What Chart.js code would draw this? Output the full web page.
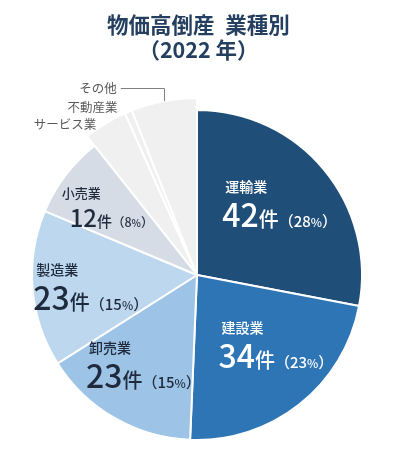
<!DOCTYPE html>
<html lang="ja">
<head>
<meta charset="utf-8">
<title>物価高倒産 業種別</title>
<script src="https://cdn.jsdelivr.net/npm/chart.js@4.4.0/dist/chart.umd.min.js"></script>
<style>
  body { margin: 0; background: #fff; }
  #wrap { position: relative; width: 397px; height: 450px; overflow: hidden; }
  #wrap canvas { position: absolute; left: 0; top: 0; }
  #title {
    position: absolute; left: 0; top: 11px; width: 397px; z-index: 3;
    text-align: center; color: #243f60;
    font: bold 21.5px/25px "Noto Sans CJK JP", sans-serif;
  }
</style>
</head>
<body>
<div id="wrap">
  <div id="title">物価高倒産&ensp;業種別<br>（2022 年）</div>
  <canvas id="backChart" width="397" height="450"></canvas>
  <canvas id="pieChart" width="397" height="450"></canvas>
</div>
<script>
// data
const categories = ['運輸業', '建設業', '卸売業', '製造業', '小売業', 'サービス業', '不動産業', 'その他'];
const counts = [42, 34, 23, 23, 12, 6, 1, 9];
const shares = [28, 23, 15, 15, 8, null, null, null]; // % shown in the labels
const sliceColors = ['#1f4e79', '#2e75b6', '#9dc3e6', '#bdd7ee', '#d6dce5', '#f0f0f0', '#f0f0f0', '#f0f0f0'];

const isMinor = i => shares[i] == null;
const mainRadius = 165;
const minorRadius = 177;
const pad = { left: 32, top: 110, right: 35, bottom: 10 };
const jp = '"Noto Sans CJK JP", sans-serif';

// small angle tweaks (deg) so the labels sit like the original
const labelTurn = [0, -9, 0, -3, 0];

const insideLabels = {
  id: 'insideLabels',
  afterDatasetsDraw(chart) {
    const ctx = chart.ctx;
    const arcs = chart.getDatasetMeta(0).data;
    ctx.save();
    arcs.forEach((arc, i) => {
      const p = arc.getProps(['x', 'y', 'startAngle', 'endAngle'], true);
      const a = (p.startAngle + p.endAngle) / 2;
      if (isMinor(i)) {
        drawOutside(ctx, p, a, i);
        return;
      }
      const t = a + (labelTurn[i] || 0) * Math.PI / 180;
      const cx = p.x + Math.cos(t) * mainRadius * 0.65;
      const cy = p.y + Math.sin(t) * mainRadius * 0.65;
      const small = counts[i] < 15;
      const color = i < 2 ? '#ffffff' : '#1f2b3d';
      const runs = [
        [String(counts[i]), `500 ${small ? 24 : 32}px ${jp}`],
        ['件', `500 ${small ? 15 : 20}px ${jp}`],
        ['（' + shares[i], `500 ${small ? 12.5 : 15}px ${jp}`],
        ['%', `500 ${small ? 10 : 12}px ${jp}`],
        ['）', `500 ${small ? 12.5 : 15}px ${jp}`]
      ];
      let w = 0;
      runs.forEach(r => { ctx.font = r[1]; r.push(ctx.measureText(r[0]).width); w += r[2]; });
      let x = cx - w / 2;
      const base = cy + (small ? 17 : 20);
      ctx.fillStyle = color;
      ctx.textBaseline = 'alphabetic';
      ctx.textAlign = 'left';
      runs.forEach(r => { ctx.font = r[1]; ctx.fillText(r[0], x, base); x += r[2]; });
      ctx.font = `500 ${small ? 13 : 14}px ${jp}`;
      ctx.textBaseline = 'middle';
      ctx.fillText(categories[i], cx - w / 2 + (small ? -8 : 3), cy - (small ? 17 : 20));
    });
    ctx.restore();
  }
};

// labels for the thin grey slices, outside the pie
const outsideShift = { 5: [-9, 1], 6: [-11, -5] };
function drawOutside(ctx, p, a, i) {
  const ex = p.x + Math.cos(a) * minorRadius;
  const ey = p.y + Math.sin(a) * minorRadius;
  ctx.font = `12.5px ${jp}`;
  ctx.fillStyle = '#595959';
  ctx.textAlign = 'right';
  ctx.textBaseline = 'middle';
  if (outsideShift[i]) {
    ctx.fillText(categories[i], ex + outsideShift[i][0], ey + outsideShift[i][1]);
    return;
  }
  const ly = ey - 13;
  ctx.strokeStyle = '#808080';
  ctx.lineWidth = 1;
  ctx.beginPath();
  ctx.moveTo(Math.round(ex) + 0.5, ey);
  ctx.lineTo(Math.round(ex) + 0.5, Math.round(ly) + 0.5);
  ctx.lineTo(ex - 43, Math.round(ly) + 0.5);
  ctx.stroke();
  ctx.fillText(categories[i], ex - 47, ly);
}

const common = {
  responsive: false,
  animation: false,
  events: [],
  layout: { padding: pad },
  plugins: { legend: { display: false }, tooltip: { enabled: false } }
};

// grey minor slices drawn a bit larger, underneath
new Chart(document.getElementById('backChart'), {
  type: 'pie',
  data: {
    labels: categories,
    datasets: [{
      data: counts,
      backgroundColor: categories.map((c, i) => isMinor(i) ? sliceColors[i] : 'rgba(0,0,0,0)'),
      borderColor: '#ffffff',
      borderWidth: categories.map((c, i) => isMinor(i) ? 2 : 0)
    }]
  },
  options: Object.assign({ radius: minorRadius }, common)
});

new Chart(document.getElementById('pieChart'), {
  type: 'pie',
  data: {
    labels: categories,
    datasets: [{
      data: counts,
      backgroundColor: categories.map((c, i) => isMinor(i) ? 'rgba(0,0,0,0)' : sliceColors[i]),
      borderColor: '#ffffff',
      borderWidth: categories.map((c, i) => isMinor(i) ? 0 : 2)
    }]
  },
  options: Object.assign({ radius: mainRadius }, common),
  plugins: [insideLabels]
});
</script>
</body>
</html>
